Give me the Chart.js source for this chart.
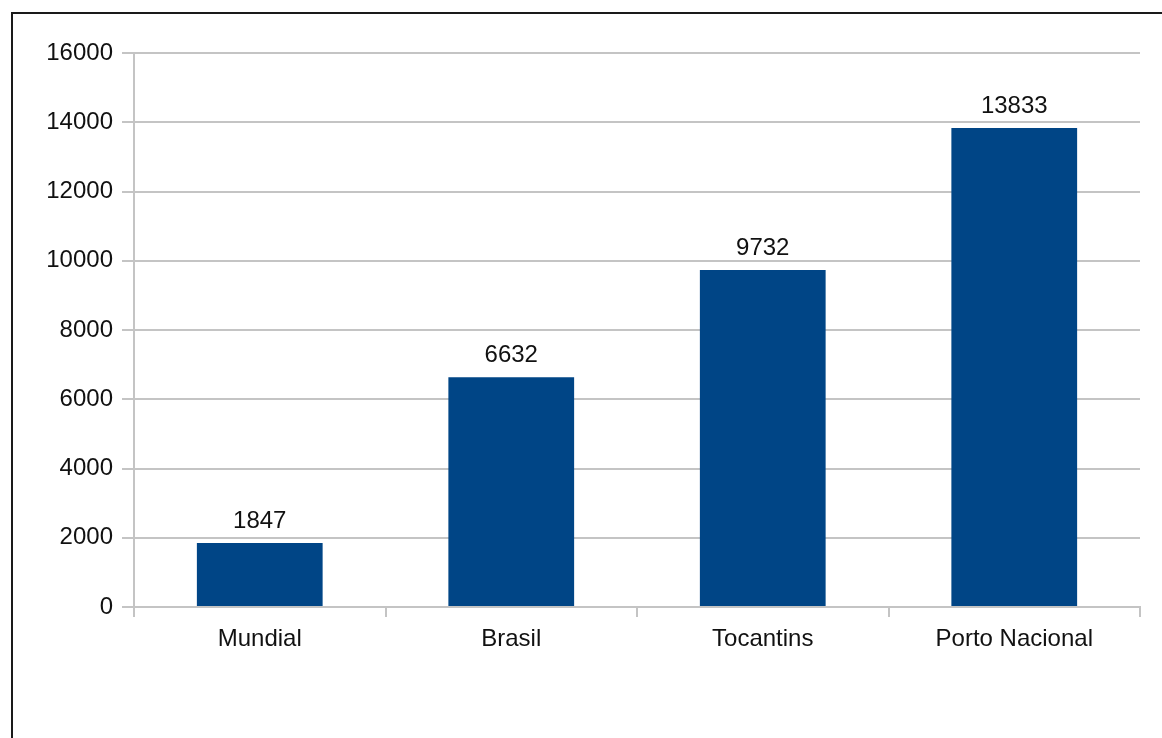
<!DOCTYPE html>
<html>
<head>
<meta charset="utf-8">
<script src="https://cdn.jsdelivr.net/npm/chart.js@4/dist/chart.umd.min.js"></script>
<style>
  html, body { margin: 0; padding: 0; background: #fff; overflow: hidden; }
  #frame { position: absolute; left: 11px; top: 12px; width: 1200px; height: 800px; border: 2px solid #1a1a1a; }
  #wrap { position: absolute; left: 0; top: 0; width: 1162px; height: 738px; }
</style>
</head>
<body>
<div id="frame"></div>
<div id="wrap"><canvas id="chart"></canvas></div>
<script>
// chart data
const categories = ["Mundial", "Brasil", "Tocantins", "Porto Nacional"];
const values = [1847, 6632, 9732, 13833];
const yTicks = [0, 2000, 4000, 6000, 8000, 10000, 12000, 14000, 16000];

const gridGrey = "#c4c4c4";
const font = { family: "'Liberation Sans', Arial, sans-serif", size: 24 };

// value labels above each bar
const barLabels = {
  id: "barLabels",
  afterDatasetsDraw(chart) {
    const ctx = chart.ctx;
    const meta = chart.getDatasetMeta(0);
    ctx.save();
    ctx.font = font.size + "px " + font.family;
    ctx.fillStyle = "#111";
    ctx.textAlign = "center";
    ctx.textBaseline = "alphabetic";
    meta.data.forEach((bar, i) => {
      ctx.fillText(String(values[i]), bar.x, bar.y - 15);
    });
    ctx.restore();
  },
};

const ctx = document.getElementById("chart").getContext("2d");
new Chart(ctx, {
  type: "bar",
  data: {
    labels: categories,
    datasets: [
      {
        data: values,
        backgroundColor: "#004586",
        borderWidth: 0,
        barPercentage: 0.5,
        categoryPercentage: 1,
      },
    ],
  },
  options: {
    responsive: true,
    maintainAspectRatio: false,
    animation: false,
    layout: { padding: { top: 53, right: 22, left: 0, bottom: 0 } },
    plugins: {
      legend: { display: false },
      tooltip: { enabled: false },
    },
    scales: {
      x: {
        offset: true,
        grid: {
          offset: true,
          color: (c) => (c.index === 0 || c.index === categories.length ? gridGrey : "transparent"),
          tickColor: gridGrey,
          lineWidth: 2,
          tickLength: 10,
        },
        border: { color: gridGrey, width: 2 },
        ticks: { color: "#111", font: font, padding: 8, maxRotation: 0 },
        afterFit: (scale) => { scale.height = 131; },
      },
      y: {
        min: 0,
        max: 16000,
        afterBuildTicks: (scale) => { scale.ticks = yTicks.map((v) => ({ value: v })); },
        grid: { color: gridGrey, lineWidth: 2, tickLength: 12 },
        border: { color: gridGrey, width: 2 },
        ticks: { color: "#111", font: font, padding: 9, callback: (v) => String(v) },
        afterFit: (scale) => { scale.width = 134; },
      },
    },
  },
  plugins: [barLabels],
});
</script>
</body>
</html>
